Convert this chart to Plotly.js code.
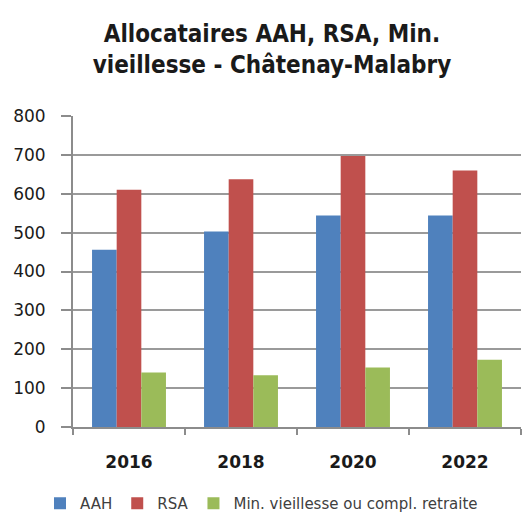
<!DOCTYPE html>
<html>
<head>
<meta charset="utf-8">
<script src="https://cdn.plot.ly/plotly-3.0.1.min.js"></script>
<style>html,body{margin:0;padding:0;background:#fff;}#chart{width:523px;height:520px;}</style>
</head>
<body>
<div id="chart"></div>
<script>
const years = ["2016", "2018", "2020", "2022"];
const seriesNames = ["AAH", "RSA", "Min. vieillesse ou compl. retraite"];
const aah = [456, 503, 544, 544];
const rsa = [610, 637, 697, 660];
const minVieillesse = [140, 133, 153, 173];
const yTicks = [0, 100, 200, 300, 400, 500, 600, 700, 800];
const colors = ["#4F81BD", "#C0504D", "#9BBB59"];

const values = [aah, rsa, minVieillesse];
const traces = values.map((v, i) => ({
  type: "bar",
  name: seriesNames[i],
  x: years,
  y: v,
  marker: {color: colors[i], line: {width: 0}},
  hoverinfo: "x+y+name"
}));

const layout = {
  width: 523,
  height: 520,
  paper_bgcolor: "#ffffff",
  plot_bgcolor: "#ffffff",
  margin: {l: 73, r: 2, t: 116, b: 93, pad: 0},
  title: {
    text: "Allocataires AAH, RSA, Min.<br>vieillesse - Châtenay-Malabry",
    font: {family: "DejaVu Sans Condensed, sans-serif", size: 24, color: "#1a1a1a", weight: "bold"},
    x: 0.52, xref: "container", xanchor: "center",
    y: 1 - 42/520, yref: "container", yanchor: "middle"
  },
  barmode: "group",
  bargap: 0.34,
  bargroupgap: 0,
  showlegend: true,
  legend: {
    orientation: "h",
    x: 0.5, xref: "container", xanchor: "center",
    y: -4/520, yref: "container", yanchor: "bottom",
    font: {family: "DejaVu Sans, sans-serif", size: 15, color: "#404040"},
    itemwidth: 30,
    traceorder: "normal"
  },
  xaxis: {
    type: "category",
    tickvals: years,
    ticktext: years,
    showgrid: false,
    showline: true,
    linecolor: "#8c8c8c",
    linewidth: 2,
    ticks: "outside",
    tickson: "boundaries",
    ticklen: 6,
    tickwidth: 2,
    tickcolor: "#8c8c8c",
    tickfont: {family: "DejaVu Sans, sans-serif", size: 17, color: "#1a1a1a", weight: "bold"},
    ticklabelstandoff: 19,
    zeroline: false,
    fixedrange: true
  },
  yaxis: {
    range: [0, 800],
    tickvals: yTicks,
    ticktext: yTicks.map(String),
    showgrid: true,
    gridcolor: "#9a9a9a",
    gridwidth: 2,
    showline: true,
    linecolor: "#8c8c8c",
    linewidth: 2,
    ticks: "outside",
    ticklen: 10,
    tickwidth: 2,
    tickcolor: "#8c8c8c",
    tickfont: {family: "DejaVu Sans, sans-serif", size: 17, color: "#1a1a1a"},
    ticklabelstandoff: 12,
    zeroline: false,
    fixedrange: true
  }
};

Plotly.newPlot("chart", traces, layout, {displayModeBar: false, staticPlot: true});
</script>
</body>
</html>
